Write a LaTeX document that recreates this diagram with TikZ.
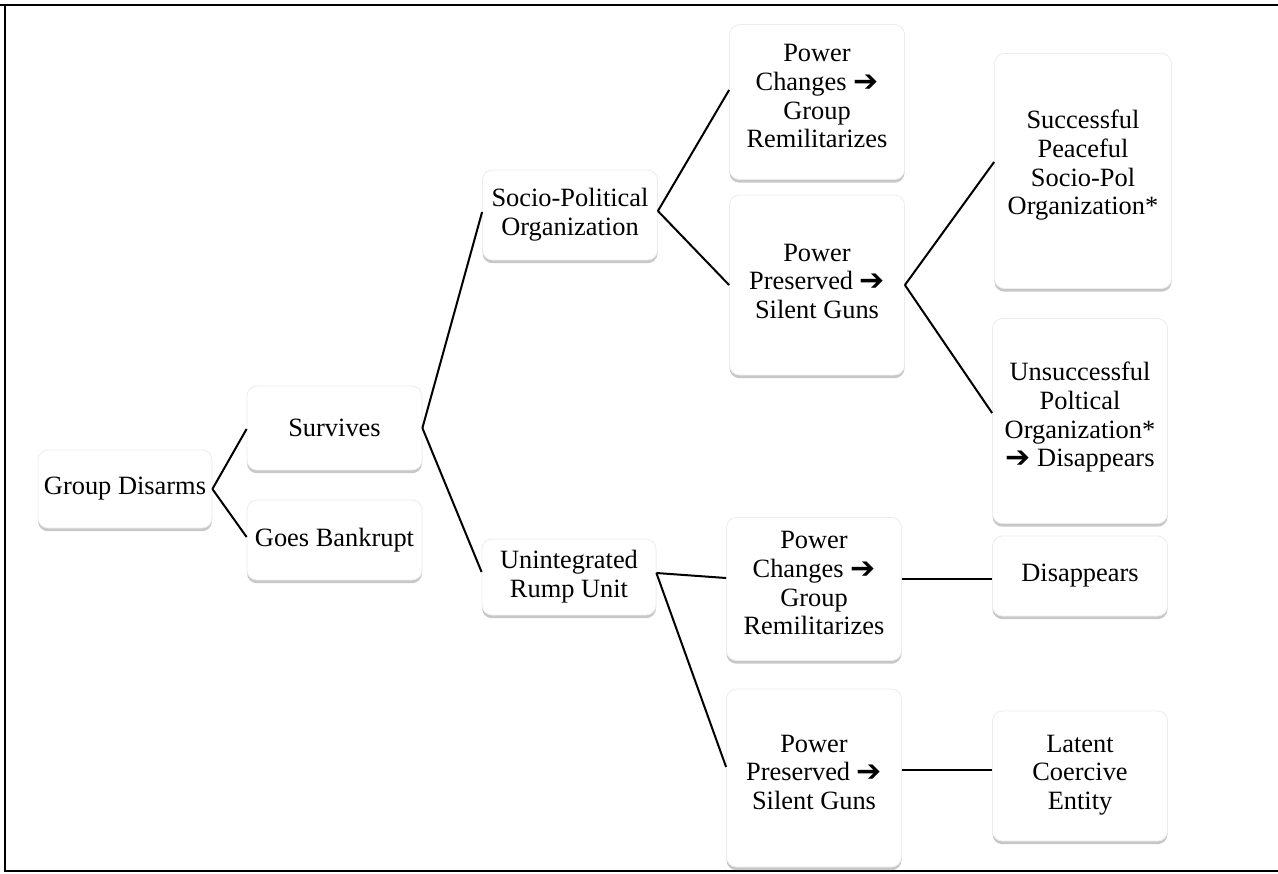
\documentclass[tikz,border=0pt]{standalone}
\usepackage{fontspec}
\setmainfont{Liberation Serif}
\newfontfamily\symfont{DejaVu Sans}
\usetikzlibrary{shadows}
\newcommand{\harr}{\raisebox{-0.3pt}{\symfont\fontsize{15}{15}\selectfont ➔}}
\newcommand{\bx}[2][6pt]{\begin{tabular}{@{}c@{}}#2\\[#1]\end{tabular}}
\begin{document}
\begin{tikzpicture}[x=0.5pt,y=-0.5pt,
  box/.style={draw=gray!15, line width=0.4pt, fill=white, rounded corners=5pt,
    inner sep=0pt, font=\fontsize{13.2}{14.3}\selectfont,
    drop shadow={shadow xshift=0pt, shadow yshift=-1.6pt, fill=gray!80, opacity=0.55}},
  sz/.style 2 args={minimum width=#1*0.5pt, minimum height=#2*0.5pt},
  conn/.style={line width=1pt, black},
  frame/.style={line width=1.3pt, black}]
\useasboundingbox (0,0) rectangle (1278,873);
\coordinate (ftl) at (0,5);
\coordinate (ftr) at (1278,5);
\coordinate (fl) at (5,5);
\coordinate (fbl) at (5,871);
\coordinate (fbr) at (1278,871);
\draw[frame] (ftl) -- (ftr);
\draw[frame] (fl) -- (fbl) -- (fbr);

\node[box, sz={174}{78}] (gd) at (125,489) {Group Disarms};
\node[box, sz={175}{84}] (surv) at (334.5,428) {Survives};
\node[box, sz={175}{80}] (gb) at (334.5,540) {Goes Bankrupt};
\node[box, sz={175}{90}] (socio) at (570,215) {\bx[0pt]{Socio-Political\\Organization}};
\node[box, sz={174}{76}] (unint) at (569,577) {\bx[0pt]{Unintegrated\\Rump Unit}};
\node[box, sz={175}{155}] (pc1) at (817,102) {\bx[3pt]{Power\\Changes \harr\\Group\\Remilitarizes}};
\node[box, sz={175}{180}] (pp1) at (817,285) {\bx[1pt]{Power\\Preserved \harr\\Silent Guns}};
\node[box, sz={177}{235}] (succ) at (1083,171) {\bx[5pt]{Successful\\Peaceful\\Socio-Pol\\Organization*}};
\node[box, sz={175}{205}] (unsucc) at (1080,421) {\bx[3pt]{Unsuccessful\\Poltical\\Organization*\\\harr{} Disappears}};
\node[box, sz={175}{143}] (pc2) at (814,589) {\bx[3pt]{Power\\Changes \harr\\Group\\Remilitarizes}};
\node[box, sz={175}{80}] (disp) at (1080,576) {Disappears};
\node[box, sz={175}{178}] (pp2) at (814,778) {\bx[3pt]{Power\\Preserved \harr\\Silent Guns}};
\node[box, sz={175}{130}] (latent) at (1080,776) {\bx[1pt]{Latent\\Coercive\\Entity}};

\draw[conn] (gd.east) -- ([yshift=-0.5pt]surv.west);
\draw[conn] (gd.east) -- ([yshift=1.5pt]gb.west);
\draw[conn] (surv.east) -- ([yshift=1.5pt]socio.west);
\draw[conn] (surv.east) -- ([yshift=2.5pt]unint.west);
\draw[conn] ([yshift=2pt]socio.east) -- ([yshift=6pt]pc1.west);
\draw[conn] ([yshift=2pt]socio.east) -- (pp1.west);
\draw[conn] (pp1.east) -- ([yshift=4.5pt]succ.west);
\draw[conn] (pp1.east) -- ([yshift=4pt]unsucc.west);
\draw[conn] ([yshift=2pt]unint.east) -- ([yshift=5.5pt]pc2.west);
\draw[conn] ([yshift=2pt]unint.east) -- ([yshift=5.5pt]pp2.west);
\draw[conn] ([yshift=5pt]pc2.east) -- ([yshift=-1.5pt]disp.west);
\draw[conn] ([yshift=4pt]pp2.east) -- ([yshift=3pt]latent.west);
\end{tikzpicture}
\end{document}
